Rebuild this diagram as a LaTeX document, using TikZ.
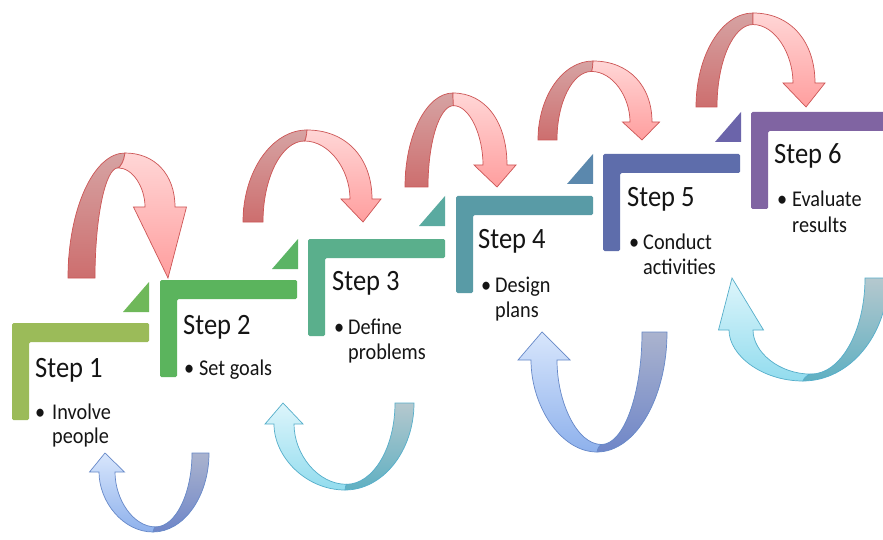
\documentclass[tikz,border=0pt]{standalone}
\usepackage{fontspec}
\newfontfamily\stepfont[FakeStretch=0.9]{Carlito}
\usetikzlibrary{calc}

\definecolor{sA}{HTML}{9BBB59}
\definecolor{sB}{HTML}{5BB45D}
\definecolor{sC}{HTML}{5AAF8C}
\definecolor{sD}{HTML}{599BA6}
\definecolor{sE}{HTML}{5E6DAB}
\definecolor{sF}{HTML}{8064A2}
\definecolor{tA}{HTML}{6FB85A}
\definecolor{tB}{HTML}{5BB465}
\definecolor{tC}{HTML}{5AAAA0}
\definecolor{tD}{HTML}{5B88AD}
\definecolor{tE}{HTML}{6B64AA}
\definecolor{rdarkT}{HTML}{D6A3A3}
\definecolor{rdarkB}{HTML}{CD6E6E}
\definecolor{rlightT}{HTML}{FFD6D6}
\definecolor{rlightB}{HTML}{FF9E9E}
\definecolor{redline}{HTML}{CC5555}
\definecolor{bdarkT}{HTML}{AAB3CE}
\definecolor{bdarkB}{HTML}{6F86C8}
\definecolor{blightT}{HTML}{D8E6FC}
\definecolor{blightB}{HTML}{8EB1EC}
\definecolor{blueline}{HTML}{6688C8}
\definecolor{cdarkT}{HTML}{B5C8CE}
\definecolor{cdarkB}{HTML}{5FB0C2}
\definecolor{clightT}{HTML}{DDF5FB}
\definecolor{clightB}{HTML}{92DCEE}
\definecolor{cyanline}{HTML}{55AECA}
\definecolor{txt}{HTML}{151515}

\tikzset{
  steptitle/.style={anchor=base west, inner sep=0pt, text=txt,
    font=\stepfont\fontsize{29.5}{30}\selectfont},
  stepitem/.style={anchor=base west, inner sep=0pt, text=txt,
    font=\stepfont\fontsize{22.5}{24}\selectfont},
  redD/.style={top color=rdarkT, bottom color=rdarkB, draw=redline, line width=0.7pt},
  redL/.style={top color=rlightT, bottom color=rlightB, draw=redline, line width=0.7pt},
}

% L-shaped step: #1 x0, #2 y0, #3 colour
\newcommand\stepL[3]{%
  \fill[#3, rounded corners=1.5pt] (#1,#2) -- ({#1+137},#2) -- ({#1+137},{#2+19})
    -- ({#1+17},{#2+19}) -- ({#1+17},{#2+97}) -- (#1,{#2+97}) -- cycle;}
% small triangle: #1 right x, #2 bottom y, #3 colour
\newcommand\stepT[3]{%
  \fill[#3] ({#1-26},#2) -- (#1,#2) -- (#1,{#2-30}) -- cycle;}

% red arc arrow: xa xb yb xt yt xc yh ws hw
\def\rtip{2}
\newcommand\redarc[9]{%
  \pgfmathsetmacro\xI{(#2+#6-#8)/2-2}%
  \pgfmathsetmacro\yI{#5+0.55*(#2-#1)}%
  \shade[redD] (#1,#3) .. controls (#1,{#5+0.45*(#3-#5)}) and ({#4-0.55*(#4-#1)},#5) .. (#4,#5)
    .. controls ({#4-0.1*(#4-\xI)},{#5+0.5*(\yI-#5)}) and ({\xI+0.3*(#4-\xI)},\yI) .. (\xI,\yI)
    .. controls ({\xI-0.55*(\xI-#2)},\yI) and (#2,{\yI+0.45*(#3-\yI)}) .. (#2,#3) -- cycle;
  \shade[redL] (#4,#5) .. controls ({#4+0.6*(#6+#8-#4)},#5) and ({#6+#8},{#5+0.4*(#7-#5)}) .. ({#6+#8},#7)
    -- ({#6+#9},#7) -- ({#6+\rtip},#3) -- ({#6-#9},#7) -- ({#6-#8},#7)
    .. controls ({#6-#8},{\yI+0.5*(#7-\yI)}) and ({\xI+0.55*(#6-#8-\xI)},\yI) .. (\xI,\yI)
    .. controls ({\xI+0.3*(#4-\xI)},\yI) and ({#4-0.1*(#4-\xI)},{#5+0.5*(\yI-#5)}) .. (#4,#5) -- cycle;
}
% U arrow: xr1 xr2 yr xB yB xc yh ws hw
\def\utip{-2}
\newcommand\uarc[9]{%
  \pgfmathsetmacro\xI{(#1+#6+#8)/2+2}%
  \pgfmathsetmacro\yI{#5-0.3*(#2-#1)}%
  \shade[udark] (#2,#3) .. controls (#2,{#3+0.55*(#5-#3)}) and ({#4+0.55*(#2-#4)},#5) .. (#4,#5)
    .. controls ({#4+0.1*(\xI-#4)},{#5-0.5*(#5-\yI)}) and ({\xI-0.3*(\xI-#4)},\yI) .. (\xI,\yI)
    .. controls ({\xI+0.55*(#1-\xI)},\yI) and (#1,{\yI-0.45*(\yI-#3)}) .. (#1,#3) -- cycle;
  \shade[ulight] (#4,#5) .. controls ({#4-0.55*(#4-#6+#8)},#5) and ({#6-#8},{#7+0.5*(#5-#7)}) .. ({#6-#8},#7)
    -- ({#6-#9},#7) -- ({#6+\utip},#3) -- ({#6+#9},#7) -- ({#6+#8},#7)
    .. controls ({#6+#8},{#7+0.5*(\yI-#7)}) and ({\xI-0.55*(\xI-#6-#8)},\yI) .. (\xI,\yI)
    .. controls ({\xI-0.3*(\xI-#4)},\yI) and ({#4+0.1*(\xI-#4)},{#5-0.5*(#5-\yI)}) .. (#4,#5) -- cycle;
}

\begin{document}
\begin{tikzpicture}[x=1pt,y=-1pt]
\useasboundingbox (0,0) rectangle (883,540);
\fill[white] (0,0) rectangle (883,540);
\begin{scope}
\clip (0,0) rectangle (883,540);

% steps
\stepL{12}{323}{sA}
\stepL{160}{280}{sB}
\stepL{308}{239}{sC}
\stepL{456}{196}{sD}
\stepL{603}{154}{sE}
\stepL{751}{112}{sF}
\stepT{149}{312}{tA}
\stepT{298}{269}{tB}
\stepT{445}{226}{tC}
\stepT{593}{184}{tD}
\stepT{741}{142}{tE}

% red arrows above
\def\rtip{8}
\redarc{68}{95}{278}{125}{153}{160}{207}{15}{26.5}
\def\rtip{2}
\redarc{243}{263}{222}{307}{130}{361}{199}{11}{20}
\redarc{405}{428}{187}{453}{93}{495}{165}{12}{21}
\def\rtip{1}
\redarc{538}{557}{140}{593}{61}{641}{122}{11}{18.5}
\def\rtip{2}
\redarc{696}{717}{107}{753}{13}{804}{83}{11}{21}

% U arrows below
\begin{scope}[udark/.style={top color=bdarkT, bottom color=bdarkB, draw=blueline, line width=0.7pt},
              ulight/.style={top color=blightT, bottom color=blightB, draw=blueline, line width=0.7pt}]
\def\utip{-2}
\uarc{192}{209}{453}{153}{532}{107}{472}{8}{17.5}
\uarc{642}{667}{332}{597}{452}{544}{360}{13}{26}
\end{scope}
\begin{scope}[udark/.style={top color=cdarkT, bottom color=cdarkB, draw=cyanline, line width=0.7pt},
              ulight/.style={top color=clightT, bottom color=clightB, draw=cyanline, line width=0.7pt}]
\def\utip{-1}
\uarc{395}{414}{403}{345}{490}{284}{424}{10}{19}
\def\utip{-9}
\uarc{865}{888}{278}{803}{381}{741}{330}{12}{22.5}
\end{scope}
\end{scope}

% texts
\node[steptitle] (t1) at (35,377) {Step 1};
\node[stepitem] (b1) at (35,419) {•};
\node[stepitem] (i1a) at (52,419) {Involve};
\node[stepitem] (i1b) at (52,443) {people};

\node[steptitle] (t2) at (183,334) {Step 2};
\node[stepitem] (b2) at (184,375) {•};
\node[stepitem] (i2a) at (199,375) {Set goals};

\node[steptitle] (t3) at (332,290) {Step 3};
\node[stepitem] (b3) at (334,334) {•};
\node[stepitem] (i3a) at (348,334) {Define};
\node[stepitem] (i3b) at (348,359) {problems};

\node[steptitle] (t4) at (478,248) {Step 4};
\node[stepitem] (b4) at (481,292) {•};
\node[stepitem] (i4a) at (495,292) {Design};
\node[stepitem] (i4b) at (495,317) {plans};

\node[steptitle] (t5) at (627,207) {Step 5};
\node[stepitem] (b5) at (629,249) {•};
\node[stepitem] (i5a) at (643,249) {Conduct};
\node[stepitem] (i5b) at (643,274) {activities};

\node[steptitle] (t6) at (774,164) {Step 6};
\node[stepitem] (b6) at (777,207) {•};
\node[stepitem] (i6a) at (792,207) {Evaluate};
\node[stepitem] (i6b) at (792,232) {results};
\end{tikzpicture}
\end{document}
